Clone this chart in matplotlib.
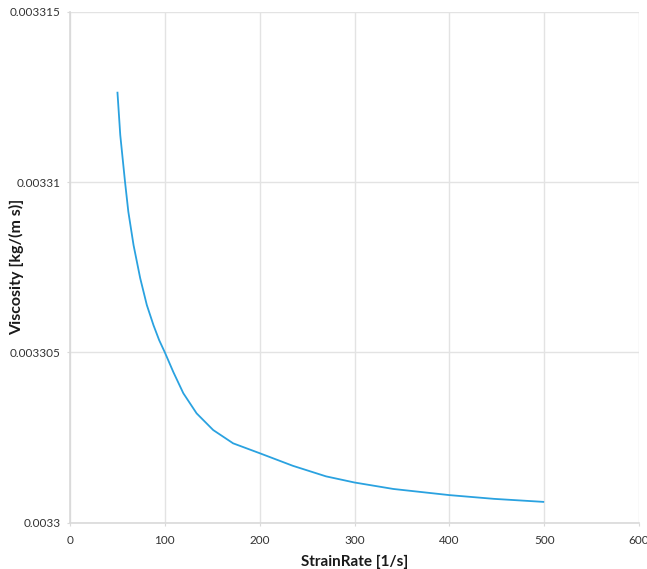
import numpy as np
import matplotlib
matplotlib.use('Agg')
import matplotlib.pyplot as plt
from matplotlib.ticker import FixedLocator, FuncFormatter

# strain rate [1/s] and viscosity [kg/(m s)]
strain_rate = [50, 53, 58, 61.5, 67, 74, 81, 88, 94, 100, 109, 119.5, 133.5, 151,
               172, 200, 235, 270, 300, 341, 400, 447, 500]
viscosity = [0.00331265, 0.00331138, 0.00331001, 0.00330913, 0.00330815, 0.00330718,
             0.00330639, 0.00330580, 0.00330536, 0.00330500, 0.00330442, 0.00330380,
             0.00330321, 0.00330272, 0.00330233, 0.00330204, 0.00330167, 0.00330136,
             0.00330118, 0.00330099, 0.00330081, 0.00330070, 0.00330061]

x_ticks = [0, 100, 200, 300, 400, 500, 600]
y_ticks = [0.0033, 0.003305, 0.00331, 0.003315]
y_tick_labels = ['0.0033', '0.003305', '0.00331', '0.003315']

plt.rcParams['font.family'] = ['Lato', 'DejaVu Sans']

fig = plt.figure(figsize=(6.47, 5.69), dpi=100)
ax = fig.add_axes([70/647, 1 - 522.7/569, (639 - 70)/647, (522.7 - 11.7)/569])

ax.plot(strain_rate, viscosity, color='#2aa2e0', linewidth=1.3,
        solid_capstyle='butt', solid_joinstyle='round')

ax.set_xlim(0, 600)
ax.set_ylim(0.0033, 0.003315)
ax.xaxis.set_major_locator(FixedLocator(x_ticks))
ax.yaxis.set_major_locator(FixedLocator(y_ticks))
ax.yaxis.set_major_formatter(FuncFormatter(
    lambda v, pos: y_tick_labels[pos] if pos is not None and pos < len(y_tick_labels) else ''))

ax.grid(True, color='#e3e3e3', linewidth=1.0)
ax.set_axisbelow(True)
for side in ['top', 'right']:
    ax.spines[side].set_visible(False)
for side in ['left', 'bottom']:
    ax.spines[side].set_color('#d9d9d9')
    ax.spines[side].set_linewidth(1.2)

ax.tick_params(axis='both', colors='#d9d9d9', labelcolor='#333333', labelsize=8.5, length=2.5)
ax.tick_params(axis='x', pad=6)
ax.tick_params(axis='y', pad=4)

ax.set_xlabel('StrainRate [1/s]', fontsize=11, fontweight='bold', color='#1a1a1a', labelpad=7)
ax.set_ylabel('Viscosity [kg/(m s)]', fontsize=11.5, fontweight='bold', color='#1a1a1a')
ax.yaxis.set_label_coords(-46/569, 0.5)

fig.savefig('out.png', dpi=100)
